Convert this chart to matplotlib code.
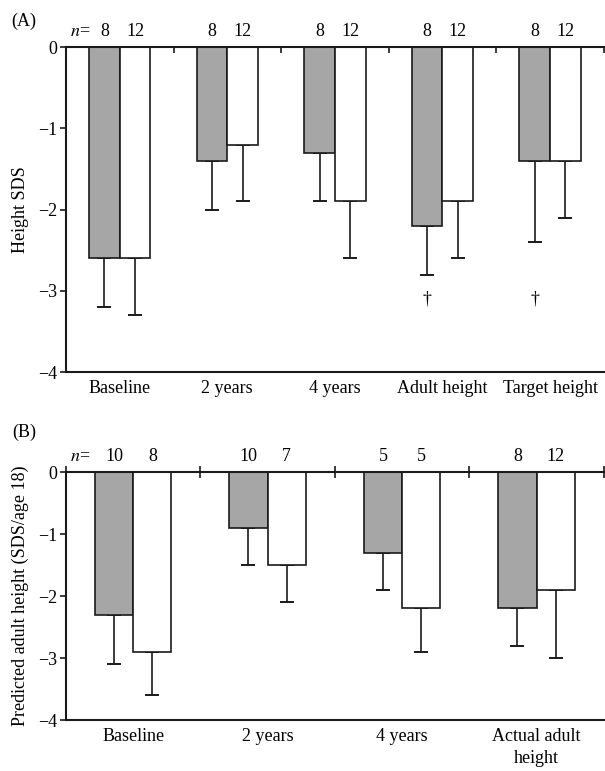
import matplotlib.pyplot as plt
from matplotlib.transforms import blended_transform_factory

plt.rcParams['font.family'] = ['Liberation Serif', 'DejaVu Serif']
plt.rcParams['font.size'] = 13
plt.rcParams['mathtext.fontset'] = 'stix'

# panel A
cats_a = ['Baseline', '2 years', '4 years', 'Adult height', 'Target height']
gray_a = [-2.6, -1.4, -1.3, -2.2, -1.4]
gray_sd_a = [0.6, 0.6, 0.6, 0.6, 1.0]
white_a = [-2.6, -1.2, -1.9, -1.9, -1.4]
white_sd_a = [0.7, 0.7, 0.7, 0.7, 0.7]
n_gray_a = ['8', '8', '8', '8', '8']
n_white_a = ['12', '12', '12', '12', '12']
dagger_cats = [3, 4]
dagger_y = -3.1

# panel B
cats_b = ['Baseline', '2 years', '4 years', 'Actual adult\nheight']
gray_b = [-2.3, -0.9, -1.3, -2.2]
gray_sd_b = [0.8, 0.6, 0.6, 0.6]
white_b = [-2.9, -1.5, -2.2, -1.9]
white_sd_b = [0.7, 0.6, 0.7, 1.1]
n_gray_b = ['10', '10', '5', '8']
n_white_b = ['8', '7', '5', '12']

GRAY = '#a6a6a6'
EDGE = '#1a1a1a'
BAR_W = 0.285


def draw_panel(ax, cats, gray, gray_sd, white, white_sd, n_gray, n_white,
               tag, ylabel, n_x, tag_y, top_dir):
    N = len(cats)
    xs = list(range(N))
    xg = [x - BAR_W / 2 for x in xs]
    xw = [x + BAR_W / 2 for x in xs]
    ax.bar(xg, gray, BAR_W, color=GRAY, edgecolor=EDGE, linewidth=1.2, zorder=2)
    ax.bar(xw, white, BAR_W, color='white', edgecolor=EDGE, linewidth=1.2, zorder=2)
    ax.errorbar(xg, gray, yerr=[gray_sd, [0] * N], fmt='none', ecolor=EDGE,
                elinewidth=1.2, capsize=5, capthick=1.4, zorder=1)
    ax.errorbar(xw, white, yerr=[white_sd, [0] * N], fmt='none', ecolor=EDGE,
                elinewidth=1.2, capsize=5, capthick=1.4, zorder=1)

    ax.set_xlim(-0.5, N - 0.5)
    ax.set_ylim(-4, 0)
    ax.set_yticks([0, -1, -2, -3, -4])
    ax.set_yticklabels(['0', '\u22121', '\u22122', '\u22123', '\u22124'])
    ax.tick_params(axis='y', direction='out', length=4, width=1.2, pad=2, color=EDGE)

    # boundaries on the top line, category names underneath
    ax.set_xticks([x - 0.5 for x in range(N + 1)])
    ax.set_xticks(xs, minor=True)
    ax.set_xticklabels(cats, minor=True, linespacing=1.35)
    ax.tick_params(axis='x', which='major', top=True, bottom=False, labelbottom=False,
                   direction=top_dir, length=8 if top_dir == 'inout' else 4,
                   width=1.2, color=EDGE)
    ax.tick_params(axis='x', which='minor', top=False, bottom=True, labelbottom=True,
                   length=0, pad=6)

    for s in ['left', 'top', 'bottom']:
        ax.spines[s].set_linewidth(1.5)
        ax.spines[s].set_color(EDGE)
    ax.spines['right'].set_visible(False)

    trans = blended_transform_factory(ax.transData, ax.transAxes)
    for i in range(N):
        ax.annotate(n_gray[i], (xg[i], 1), xycoords=trans, xytext=(0, 11),
                    textcoords='offset points', ha='center', va='center')
        ax.annotate(n_white[i], (xw[i], 1), xycoords=trans, xytext=(0, 11),
                    textcoords='offset points', ha='center', va='center')
    ax.annotate('$n$=', (n_x, 1), xycoords=trans, xytext=(0, 11),
                textcoords='offset points', ha='center', va='center')

    ax.set_ylabel(ylabel)
    ax.yaxis.set_label_coords(-0.068, 0.5)
    ax.text(-0.078, tag_y, tag, transform=ax.transAxes, ha='center', va='center')


fig = plt.figure(figsize=(6.05, 7.71), dpi=100)
ax1 = fig.add_axes([0.109, 0.5175, 0.889, 0.4215])
ax2 = fig.add_axes([0.109, 0.0661, 0.889, 0.3217])

draw_panel(ax1, cats_a, gray_a, gray_sd_a, white_a, white_sd_a, n_gray_a, n_white_a,
           '(A)', 'Height SDS', -0.37, 1.08, 'in')
draw_panel(ax2, cats_b, gray_b, gray_sd_b, white_b, white_sd_b, n_gray_b, n_white_b,
           '(B)', 'Predicted adult height (SDS/age 18)', -0.395, 1.16, 'inout')

for c in dagger_cats:
    ax1.text(c - BAR_W / 2, dagger_y, '\u2020', ha='center', va='center', fontsize=13)

fig.savefig('out.png', dpi=100)
